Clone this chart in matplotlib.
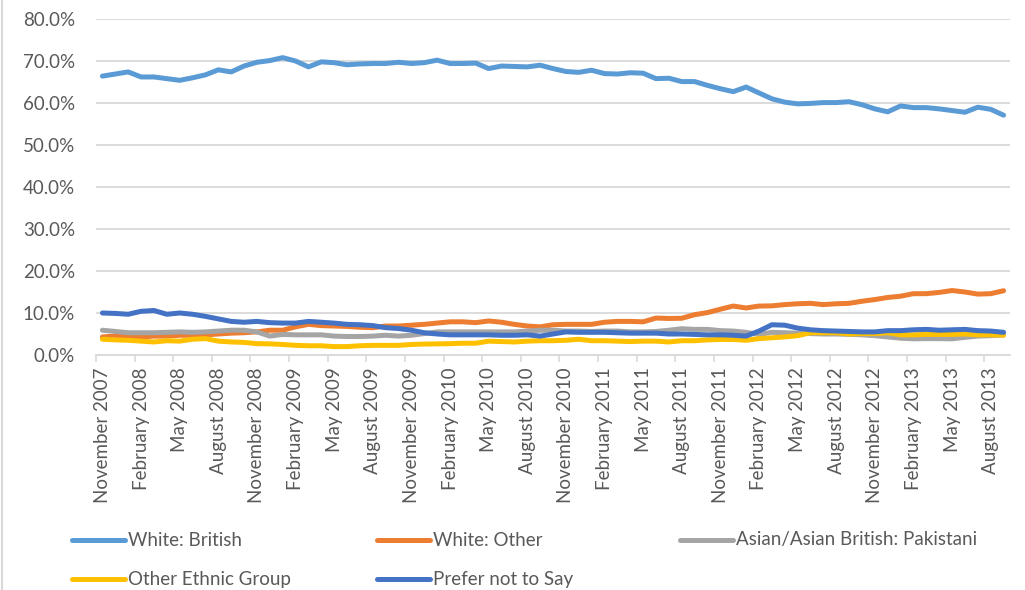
import matplotlib
matplotlib.use("Agg")
import matplotlib.pyplot as plt
from matplotlib.lines import Line2D
import numpy as np
import pandas as pd

plt.rcParams['font.family'] = ['Lato', 'DejaVu Sans']

# Monthly categories, November 2007 to September 2013
months = pd.date_range("2007-11-01", periods=71, freq="MS")
month_labels = [m.strftime("%B %Y") for m in months]

# Share of each group (%)
white_british = [
    66.4, 66.9, 67.4, 66.2, 66.2, 65.8, 65.4, 66.0, 66.7, 67.9, 67.4, 68.8,
    69.7, 70.1, 70.8, 70.0, 68.6, 69.8, 69.6, 69.1, 69.3, 69.4, 69.4, 69.7,
    69.4, 69.6, 70.2, 69.4, 69.4, 69.5, 68.2, 68.8, 68.7, 68.6, 69.0, 68.2,
    67.5, 67.3, 67.8, 67.0, 66.9, 67.2, 67.1, 65.8, 65.9, 65.1, 65.1, 64.2,
    63.4, 62.7, 63.8, 62.4, 61.0, 60.2, 59.8, 59.9, 60.1, 60.1, 60.3, 59.6,
    58.6, 57.9, 59.3, 58.9, 58.9, 58.6, 58.2, 57.8, 59.0, 58.5, 57.1,
]
white_other = [
    4.3, 4.5, 4.4, 4.3, 4.5, 4.5, 4.7, 4.7, 4.8, 5.0, 5.2, 5.3,
    5.5, 5.9, 5.9, 6.7, 7.3, 7.0, 6.9, 6.8, 6.6, 6.5, 6.9, 6.9,
    7.1, 7.3, 7.6, 7.9, 7.9, 7.7, 8.1, 7.8, 7.3, 6.9, 6.7, 7.2,
    7.3, 7.3, 7.3, 7.8, 8.0, 8.0, 7.9, 8.8, 8.7, 8.75, 9.6, 10.1,
    10.9, 11.65, 11.2, 11.65, 11.7, 12.0, 12.2, 12.3, 12.0, 12.2, 12.3, 12.8,
    13.2, 13.7, 14.0, 14.6, 14.6, 14.9, 15.35, 15.0, 14.5, 14.6, 15.3,
]
pakistani = [
    5.9, 5.6, 5.3, 5.3, 5.3, 5.4, 5.5, 5.4, 5.5, 5.7, 5.9, 5.9,
    5.5, 4.5, 4.9, 4.8, 4.8, 4.8, 4.5, 4.4, 4.4, 4.5, 4.7, 4.5,
    4.7, 5.1, 5.5, 5.5, 5.5, 5.5, 5.5, 5.5, 5.5, 5.7, 5.9, 5.9,
    5.7, 5.7, 5.6, 5.7, 5.7, 5.5, 5.5, 5.6, 5.9, 6.25, 6.1, 6.1,
    5.8, 5.7, 5.4, 4.9, 5.4, 5.3, 5.2, 5.1, 5.0, 5.0, 4.9, 4.8,
    4.6, 4.3, 4.0, 3.85, 3.9, 3.9, 3.85, 4.2, 4.5, 4.6, 4.8,
]
other_ethnic = [
    3.75, 3.6, 3.5, 3.3, 3.1, 3.4, 3.3, 3.75, 3.9, 3.3, 3.1, 3.0,
    2.7, 2.65, 2.5, 2.3, 2.2, 2.2, 2.0, 2.0, 2.2, 2.3, 2.3, 2.3,
    2.5, 2.6, 2.65, 2.7, 2.8, 2.8, 3.3, 3.2, 3.1, 3.3, 3.4, 3.4,
    3.5, 3.75, 3.4, 3.4, 3.3, 3.2, 3.3, 3.3, 3.1, 3.4, 3.4, 3.6,
    3.7, 3.7, 3.5, 3.9, 4.1, 4.3, 4.6, 5.3, 5.3, 5.3, 5.0, 5.1,
    5.1, 5.3, 4.8, 4.8, 4.9, 4.9, 4.9, 5.0, 4.8, 4.8, 4.7,
]
prefer_not = [
    10.0, 9.9, 9.7, 10.4, 10.6, 9.7, 10.0, 9.7, 9.2, 8.6, 8.0, 7.8,
    8.0, 7.7, 7.6, 7.6, 8.0, 7.8, 7.6, 7.3, 7.2, 7.0, 6.5, 6.3,
    5.9, 5.3, 5.0, 4.8, 4.8, 4.8, 4.8, 4.7, 4.7, 4.8, 4.5, 5.0,
    5.5, 5.4, 5.4, 5.4, 5.3, 5.2, 5.2, 5.2, 5.0, 5.0, 4.9, 4.8,
    4.8, 4.7, 4.5, 5.7, 7.2, 7.1, 6.4, 6.0, 5.8, 5.7, 5.6, 5.5,
    5.5, 5.8, 5.8, 6.0, 6.1, 5.9, 6.0, 6.1, 5.8, 5.7, 5.4,
]

series_names = ["White: British", "White: Other", "Asian/Asian British: Pakistani",
                "Other Ethnic Group", "Prefer not to Say"]
series_values = [white_british, white_other, pakistani, other_ethnic, prefer_not]
series_colors = ["#5B9BD5", "#ED7D31", "#A5A5A5", "#FFC000", "#4472C4"]

text_color = "#595959"
grid_color = "#D9D9D9"
lw = 3.6

fig = plt.figure(figsize=(10.25, 5.9), dpi=100)
ax = fig.add_axes([96 / 1025, 1 - 355 / 590, (1010 - 96) / 1025, (355 - 19) / 590])

x = np.arange(len(months))
for vals, col in zip(series_values, series_colors):
    ax.plot(x, np.array(vals) / 100.0, color=col, lw=lw,
            solid_joinstyle="round", solid_capstyle="round", zorder=3)

ax.set_xlim(-0.5, len(months) - 0.5)
ax.set_ylim(0, 0.8)

# y axis: percentages with horizontal gridlines
yt = np.arange(0, 0.81, 0.1)
ax.set_yticks(yt)
ax.set_yticklabels([f"{v * 100:.1f}%" for v in yt])
ax.yaxis.grid(True, color=grid_color, lw=1.3, zorder=0)
ax.tick_params(axis="y", length=0, pad=15, labelsize=13.5, labelcolor=text_color)

# x axis: tick marks between categories, labels every third month
ax.set_xticks(np.arange(-0.5, len(months) - 1, 3))
ax.set_xticklabels([])
ax.set_xticks(np.arange(0, len(months), 3), minor=True)
ax.set_xticklabels([month_labels[i] for i in range(0, len(months), 3)],
                   minor=True, rotation=90)
ax.tick_params(axis="x", which="major", length=5, width=1.2, color=grid_color)
ax.tick_params(axis="x", which="minor", length=0, pad=9, labelsize=13.5,
               labelcolor=text_color)

for side in ("top", "right", "left"):
    ax.spines[side].set_visible(False)
ax.spines["bottom"].set_color(grid_color)
ax.spines["bottom"].set_linewidth(1.3)

# Legend laid out in rows of three
legend_pos = [(72, 540), (377, 540), (680, 540), (72, 579), (377, 579)]
for (px, py), name, col in zip(legend_pos, series_names, series_colors):
    fx0, fx1 = px / 1025, (px + 53) / 1025
    fy = 1 - py / 590
    fig.add_artist(Line2D([fx0, fx1], [fy, fy], transform=fig.transFigure,
                          color=col, lw=lw, solid_capstyle="round"))
    fig.text((px + 56) / 1025, fy, name, color=text_color, fontsize=13.5,
             va="center", ha="left")

# chart-area border on the left edge
fig.add_artist(Line2D([1.5 / 1025, 1.5 / 1025], [0, 1], transform=fig.transFigure,
                      color=grid_color, lw=1.5))

fig.savefig("out.png", dpi=100, facecolor="white")
